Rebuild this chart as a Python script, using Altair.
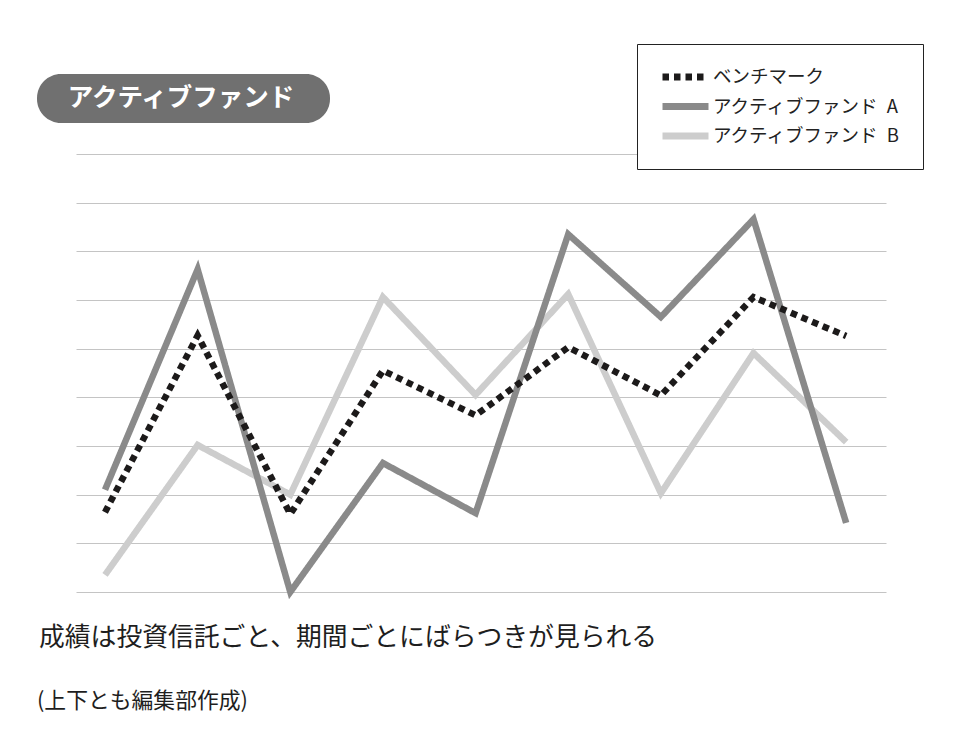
import altair as alt
import pandas as pd

periods = list(range(9))
series_names = ["ベンチマーク", "アクティブファンド\u2002A", "アクティブファンド\u2002B"]
benchmark = [1.64, 5.27, 1.60, 4.55, 3.63, 5.03, 4.04, 6.06, 5.26]
fund_a = [2.10, 6.63, 0.00, 2.65, 1.62, 7.35, 5.65, 7.66, 1.42]
fund_b = [0.35, 3.02, 2.00, 6.06, 4.05, 6.12, 2.03, 4.91, 3.08]
grid_values = list(range(10))

title_text = "アクティブファンド"
caption_main = "成績は投資信託ごと、期間ごとにばらつきが見られる"
caption_note = "(上下とも編集部作成)"

FONT = "Noto Sans CJK JP"

rows = []
# draw order: B first, then A, then benchmark on top
for name, vals in [(series_names[2], fund_b), (series_names[1], fund_a), (series_names[0], benchmark)]:
    for p, v in zip(periods, vals):
        rows.append({"period": p, "value": v, "series": name})
df = pd.DataFrame(rows)

W, H = 810, 438

lines = alt.Chart(df).mark_line(strokeWidth=6.5, strokeCap="butt", strokeJoin="miter").encode(
    x=alt.X("period:Q", scale=alt.Scale(domain=[-0.313, 8.43], nice=False, zero=False),
            axis=alt.Axis(labels=False, ticks=False, domain=False, grid=False, title=None)),
    y=alt.Y("value:Q", scale=alt.Scale(domain=[0, 9], nice=False),
            axis=alt.Axis(values=grid_values, labels=False, ticks=False, domain=False,
                          grid=True, gridColor="#c4c4c4", gridWidth=1, title=None)),
    color=alt.Color("series:N",
                    scale=alt.Scale(domain=series_names, range=["#1c1a1a", "#8a8a8a", "#cdcdcd"]),
                    legend=alt.Legend(title=None)),
    strokeDash=alt.StrokeDash("series:N",
                              scale=alt.Scale(domain=series_names, range=[[6.5, 5], [1, 0], [1, 0]]),
                              legend=alt.Legend(title=None)),
)

badge = alt.Chart(pd.DataFrame({"t": [title_text]})).mark_rect(
    color="#707070", cornerRadius=24
).encode(x=alt.value(-39), x2=alt.value(254), y=alt.value(-80), y2=alt.value(-31))

badge_text = alt.Chart(pd.DataFrame({"t": [title_text]})).mark_text(
    font=FONT, fontSize=25.5, fontWeight="bold", color="white", align="center", baseline="middle"
).encode(x=alt.value(105), y=alt.value(-56), text="t:N")

cap1 = alt.Chart(pd.DataFrame({"t": [caption_main]})).mark_text(
    font=FONT, fontSize=25.8, color="#1e1e1e", align="left", baseline="middle"
).encode(x=alt.value(-37), y=alt.value(484), text="t:N")

cap2 = alt.Chart(pd.DataFrame({"t": [caption_note]})).mark_text(
    font=FONT, fontSize=21.8, color="#1e1e1e", align="left", baseline="middle"
).encode(x=alt.value(-39), y=alt.value(547), text="t:N")

chart = alt.layer(lines, badge, badge_text, cap1, cap2).properties(
    width=W, height=H,
    padding={"left": 68, "top": 146, "right": 60, "bottom": 125},
    autosize=alt.AutoSizeParams(type="none"),
).configure_view(stroke=None).configure_legend(
    orient="none", legendX=561, legendY=-110,
    strokeColor="#222222", fillColor="white", padding=22,
    labelFont=FONT, labelFontSize=18.5, labelColor="#222222", labelOffset=1,
    symbolType="stroke", symbolSize=2116, symbolStrokeWidth=7, rowPadding=7.5,
    clipHeight=22, labelLimit=300,
)

chart.save("out.html", embed_options={"renderer": "svg", "actions": False})
